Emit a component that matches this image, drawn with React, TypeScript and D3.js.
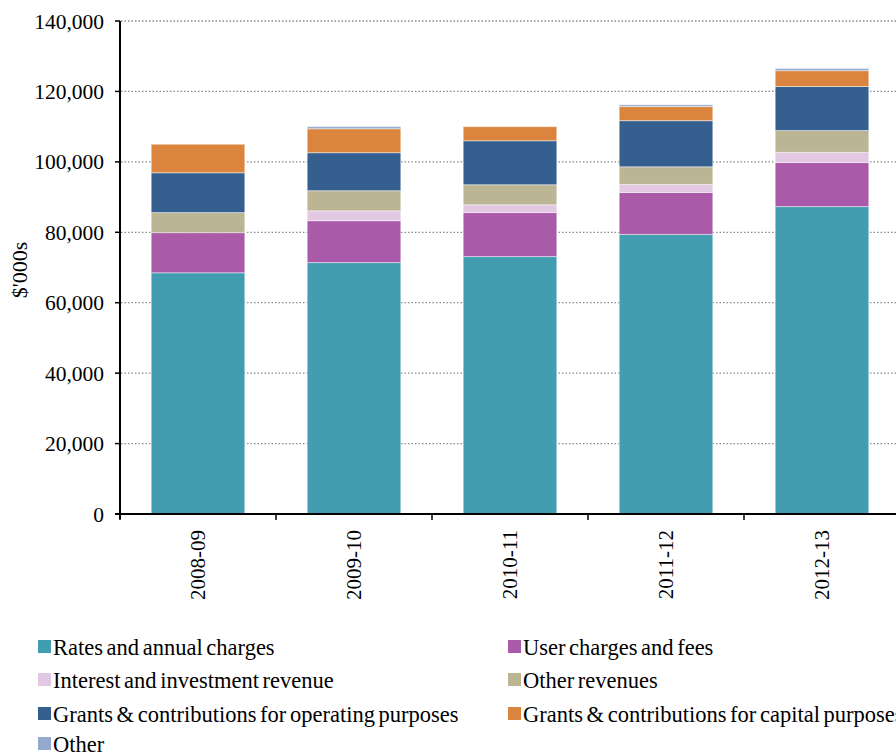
import React from "react";
import * as d3 from "d3";

const categories = ["2008-09", "2009-10", "2010-11", "2011-12", "2012-13"];
const seriesNames = [
  "Rates and annual charges",
  "User charges and fees",
  "Interest and investment revenue",
  "Other revenues",
  "Grants & contributions for operating purposes",
  "Grants & contributions for capital purposes",
  "Other",
];
const rates = [68500, 71400, 73100, 79400, 87300];
const userCharges = [11400, 11900, 12500, 11900, 12500];
const interest = [0, 2800, 2200, 2300, 2900];
const otherRevenues = [5700, 5700, 5700, 5000, 6200];
const grantsOperating = [11300, 10800, 12500, 13100, 12500];
const grantsCapital = [8100, 6800, 4000, 4000, 4500];
const other = [0, 600, 0, 500, 600];
const yTicks = [0, 20000, 40000, 60000, 80000, 100000, 120000, 140000];
const colors = ["#419DAF", "#A95BA9", "#E3C8E3", "#BBB593", "#355F8F", "#DB843D", "#93A9D0"];

const seriesValues = [rates, userCharges, interest, otherRevenues, grantsOperating, grantsCapital, other];

export default function App() {
  const W = 896, H = 754;
  const left = 120, right = 900, top = 21, bottom = 514;
  const font = "'Liberation Serif', 'Times New Roman', serif";

  const rows = categories.map((c, i) => {
    const r: any = { cat: c };
    seriesNames.forEach((s, j) => (r[s] = seriesValues[j][i]));
    return r;
  });
  const stacked = d3.stack<any>().keys(seriesNames)(rows);

  const x = d3.scaleBand().domain(categories).range([left, right]).paddingInner(0.4).paddingOuter(0.2);
  const xOuter = d3.scaleBand().domain(categories).range([left, right]);
  const y = d3.scaleLinear().domain([0, 140000]).range([bottom, top]);
  const fmt = d3.format(",");

  const legendRows = [647, 680, 714, 744];
  const legendCols = [38, 508];

  return (
    <svg width={W} height={H} style={{ display: "block", position: "absolute", left: 0, top: 0 }} fontFamily={font}>
      <rect width={W} height={H} fill="#fff" />
      {yTicks.slice(1).map((t) => (
        <line key={"g" + t} x1={left + 1} x2={right} y1={y(t)} y2={y(t)} stroke="#8a8a8a" strokeWidth={1.3} strokeDasharray="1.5,2" />
      ))}
      {stacked.map((layer, j) => (
        <g key={layer.key} fill={colors[j]}>
          {layer.map((d, i) =>
            d[1] - d[0] > 0 ? (
              <rect
                key={i}
                x={x(categories[i])}
                width={x.bandwidth()}
                y={y(d[1])}
                height={y(d[0]) - y(d[1])}
                stroke="#ffffff"
                strokeOpacity={0.45}
                strokeWidth={1}
              />
            ) : null
          )}
        </g>
      ))}
      {/* y axis */}
      <line x1={left} x2={left} y1={top} y2={bottom + 5} stroke="#000" strokeWidth={2} />
      {yTicks.map((t) => (
        <g key={"t" + t}>
          <line x1={left - 5} x2={left} y1={y(t)} y2={y(t)} stroke="#000" strokeWidth={1.5} />
          <text x={left - 16} y={y(t)} dy="0.35em" textAnchor="end" fontSize={21.5} fill="#000">
            {fmt(t)}
          </text>
        </g>
      ))}
      <text transform={`translate(27,270) rotate(-90)`} textAnchor="middle" fontSize={22} fill="#000">
        $'000s
      </text>
      {/* x axis */}
      <line x1={left - 5} x2={right} y1={bottom} y2={bottom} stroke="#000" strokeWidth={2} />
      {categories.map((c, i) => (
        <line key={"xt" + c} x1={xOuter(c)!} x2={xOuter(c)!} y1={bottom} y2={bottom + 6} stroke="#000" strokeWidth={1.5} />
      ))}
      {categories.map((c) => (
        <text
          key={"xl" + c}
          transform={`translate(${x(c)! + x.bandwidth() / 2},${bottom + 16}) rotate(-90)`}
          textAnchor="end"
          dy="0.35em"
          fontSize={21}
          fill="#000"
        >
          {c}
        </text>
      ))}
      {/* legend */}
      {seriesNames.map((s, j) => {
        const lx = legendCols[j % 2];
        const ly = legendRows[Math.floor(j / 2)];
        return (
          <g key={"lg" + s}>
            <rect x={lx} y={ly - 7} width={13} height={13} fill={colors[j]} />
            <text x={lx + 15} y={ly} dy="0.35em" fontSize={22.5} wordSpacing={-2} fill="#000">
              {s}
            </text>
          </g>
        );
      })}
    </svg>
  );
}
